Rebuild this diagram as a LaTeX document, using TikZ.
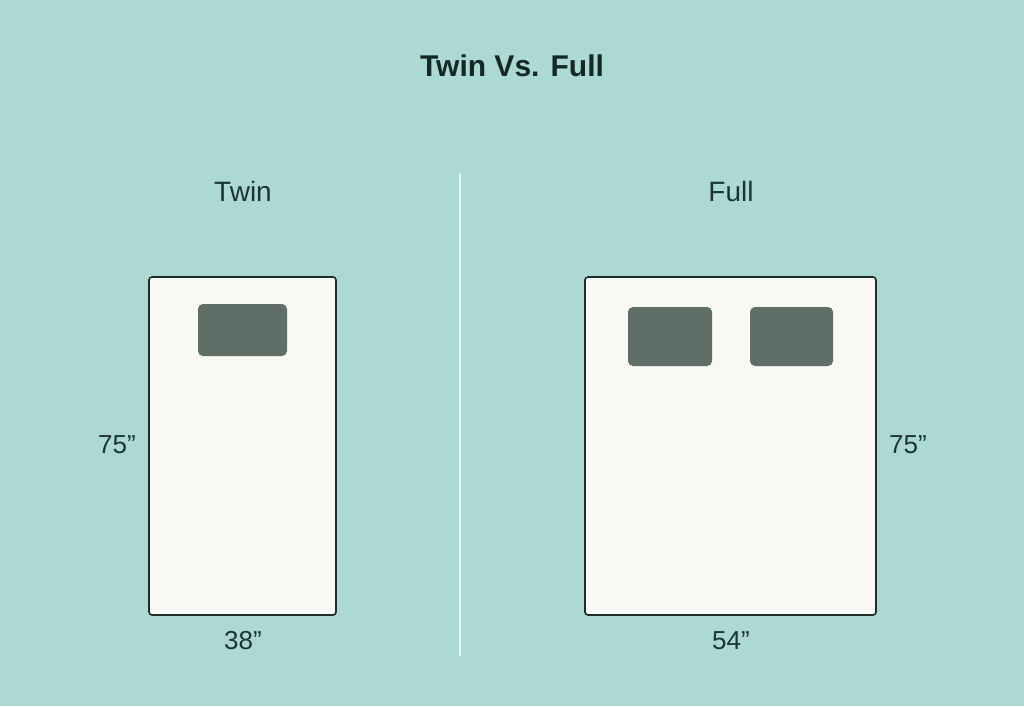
\documentclass[tikz,border=0pt]{standalone}
\usepackage{fontspec}
\setmainfont{Liberation Sans}
\definecolor{bg}{HTML}{ADD9D4}
\definecolor{bedfill}{HTML}{F8F8F4}
\definecolor{bedline}{HTML}{1F2E2C}
\definecolor{pillow}{HTML}{5F6E66}
\definecolor{txt}{HTML}{1C3532}
\definecolor{ttltxt}{HTML}{142826}
\definecolor{divider}{HTML}{E6F4F2}
\begin{document}
\begin{tikzpicture}[x=1pt,y=-1pt,
  bed/.style={draw=bedline,line width=1.6pt,fill=bedfill,rounded corners=3pt},
  pil/.style={fill=pillow,rounded corners=5pt},
  lbl/.style={text=txt,font=\fontsize{28}{30}\selectfont,inner sep=0pt},
  dim/.style={text=txt,font=\fontsize{26}{28}\selectfont,inner sep=0pt},
  ttl/.style={text=ttltxt,font=\fontsize{30}{34}\selectfont\bfseries,inner sep=0pt}]
\fill[bg] (0,0) rectangle (1024,706);
\useasboundingbox (0,0) rectangle (1024,706);
\node[ttl] (title) at (512,66) {Twin Vs. Full};
\coordinate (dtop) at (460,173);
\coordinate (dbot) at (460,656);
\draw[divider,line width=2.2pt] (dtop) -- (dbot);
% Twin
\node[lbl] (twinl) at (243,191) {Twin};
\draw[bed] (149,277) rectangle (336,615);
\fill[pil] (198,304) rectangle (287,356);
\node[dim] (tw75) at (117,445) {75”};
\node[dim] (tw38) at (243,641) {38”};
% Full
\node[lbl] (fulll) at (731,191) {Full};
\draw[bed] (585,277) rectangle (876,615);
\fill[pil] (628,307) rectangle (712,366);
\fill[pil] (750,307) rectangle (833,366);
\node[dim] (fu75) at (908,445) {75”};
\node[dim] (fu54) at (731,641) {54”};
\end{tikzpicture}
\end{document}
